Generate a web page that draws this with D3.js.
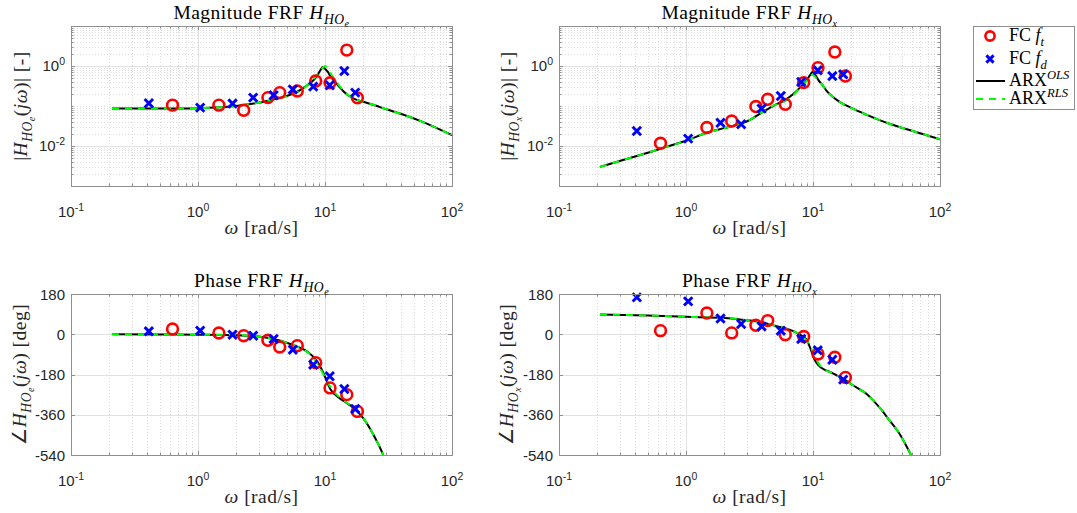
<!DOCTYPE html>
<html>
<head>
<meta charset="utf-8">
<script src="https://cdnjs.cloudflare.com/ajax/libs/d3/7.8.5/d3.min.js"></script>
<style>
body{margin:0;background:#fff;}
</style>
</head>
<body>
<svg id="fig" width="1077" height="513"></svg>
<script>
// ---- data ----
// measurement frequencies (rad/s)
var w_ft = [0.63, 1.46, 2.29, 3.55, 4.4, 6.05, 8.45, 10.95, 14.85, 18.0];
var w_fd = [0.41, 1.04, 1.87, 2.72, 3.94, 5.58, 8.08, 10.9, 14.2, 17.3];

// magnitude, H_HOe
var mag_e_ft = [0.105, 0.105, 0.078, 0.162, 0.216, 0.237, 0.42, 0.38, 2.5, 0.16];
var mag_e_fd = [0.117, 0.091, 0.115, 0.162, 0.186, 0.26, 0.305, 0.33, 0.75, 0.216];
// magnitude, H_HOx
var mag_x_ft = [0.0117, 0.029, 0.042, 0.097, 0.147, 0.11, 0.385, 0.91, 2.24, 0.56];
var mag_x_fd = [0.0237, 0.0153, 0.038, 0.035, 0.086, 0.178, 0.4, 0.78, 0.56, 0.62];
// phase (deg), H_HOe
var ph_e_ft = [23.5, 5.6, -6.5, -27, -57, -51, -127, -240, -270, -345];
var ph_e_fd = [13, 16, -2, -6.5, -21, -69, -136, -188, -245, -334];
// phase (deg), H_HOx
var ph_x_ft = [16, 95, 6, 40, 61, -2, -10, -88, -103, -193];
var ph_x_fd = [165, 147, 70, 46, 35, 16, -21, -72, -114, -203];

// ARX model curves
var w_mag_e = [0.21, 0.3, 0.5, 0.7, 1, 1.5, 2, 2.5, 3, 4, 5, 6, 7, 8, 8.6, 9.2, 9.6, 10, 10.5, 11, 12, 13, 14, 17, 20, 25, 30, 40, 60, 100];
var mag_e_ols = [0.087, 0.087, 0.087, 0.087, 0.088, 0.093, 0.1, 0.11, 0.12, 0.147, 0.178, 0.224, 0.305, 0.42, 0.55, 0.78, 0.95, 0.85, 0.72, 0.56, 0.4, 0.3, 0.23, 0.15, 0.128, 0.103, 0.084, 0.063, 0.039, 0.0186];
var mag_e_rls = [0.087, 0.087, 0.087, 0.087, 0.088, 0.093, 0.1, 0.11, 0.12, 0.145, 0.175, 0.22, 0.3, 0.45, 0.58, 0.78, 0.9, 1.0, 0.85, 0.68, 0.45, 0.32, 0.24, 0.15, 0.128, 0.103, 0.084, 0.063, 0.039, 0.0186];

var w_mag_x = [0.21, 0.3, 0.5, 0.7, 1, 1.5, 2, 2.6, 3, 4, 5, 6, 7, 8, 9, 9.5, 9.9, 10.5, 11, 12, 12.8, 14, 16.3, 20, 26, 40, 60, 100];
var mag_x_ols = [0.003, 0.0042, 0.0068, 0.0095, 0.0135, 0.022, 0.028, 0.035, 0.041, 0.07, 0.105, 0.14, 0.2, 0.3, 0.46, 0.6, 0.71, 0.58, 0.45, 0.32, 0.24, 0.18, 0.125, 0.09, 0.062, 0.036, 0.024, 0.0148];
var mag_x_rls = [0.003, 0.0042, 0.0068, 0.0095, 0.0135, 0.022, 0.028, 0.035, 0.041, 0.07, 0.105, 0.13, 0.19, 0.3, 0.44, 0.55, 0.6, 0.52, 0.43, 0.32, 0.24, 0.18, 0.125, 0.09, 0.062, 0.036, 0.024, 0.0148];

var w_ph_e = [0.21, 0.5, 1, 2, 3, 4, 5, 6, 7, 8, 9, 10, 11, 12, 14, 16, 20, 24, 28, 31];
var ph_e_ols = [0, -1, -2, -4, -10, -22, -38, -55, -72, -98, -135, -190, -245, -270, -298, -320, -375, -448, -525, -590];
var ph_e_rls = [0, -1, -2, -4, -10, -22, -38, -55, -74, -100, -145, -192, -235, -262, -296, -320, -375, -448, -525, -590];

var w_ph_x = [0.21, 0.5, 1, 2, 3, 4, 5, 6, 7, 8, 8.9, 9.4, 10.3, 11, 12.4, 14, 15.5, 18, 20.6, 23.5, 26.6, 30, 34.5, 40, 48, 55, 59, 64];
var ph_x_ols = [88, 84, 78, 73, 63, 53, 38, 27, 14, -4, -24, -54, -114, -138, -159, -172, -185, -205, -228, -248, -268, -298, -337, -385, -445, -505, -540, -590];
var ph_x_rls = [88, 84, 78, 73, 63, 53, 38, 27, 14, -4, -28, -48, -95, -128, -160, -172, -185, -205, -228, -248, -268, -298, -337, -385, -445, -505, -540, -590];

var x_ticks = [0.1, 1, 10, 100];
var mag_ticks = [0.01, 1];
var ph_ticks = [-540, -360, -180, 0, 180];

var legend_labels = [
	[{t:"FC "}, {t:"f", i:1}, {t:"t", i:1, l:1}],
	[{t:"FC "}, {t:"f", i:1}, {t:"d", i:1, l:1}],
	[{t:"ARX"}, {t:"OLS", i:1, l:-1}],
	[{t:"ARX"}, {t:"RLS", i:1, l:-1}]
];

// ---- styles ----
var SERIF = "'Liberation Serif','Times New Roman',serif";
var SANS = "'Liberation Sans',Arial,Helvetica,sans-serif";
var AXC = "#8f8f8f";
var TXC = "#262626";
var RED = "#ff0000", BLUE = "#0000ff", GREEN = "#00ff00";

var svg = d3.select("#fig");

// 渲染含上下標的文字
function rich(txt, parts, fs){
	var cur = 0;
	parts.forEach(function(p){
		var lvl = p.l || 0;
		var off = lvl===1 ? 0.26*fs : (lvl===2 ? 0.42*fs : (lvl===-1 ? -0.38*fs : 0));
		var size = lvl===1 ? 0.7*fs : (lvl===2 ? 0.52*fs : (lvl===-1 ? 0.7*fs : fs));
		var ts = txt.append("tspan")
			.attr("dy", off-cur)
			.attr("font-size", size)
			.attr("font-style", p.i ? "italic" : "normal")
			.text(p.t);
		if(p.f){ ts.attr("font-family", p.f); }
		cur = off;
	});
	return txt;
}

function minorLog(lo, hi){
	var out = [];
	for(var k=lo;k<hi;k++){
		for(var m=1;m<=9;m++){ out.push(m*Math.pow(10,k)); }
	}
	return out;
}

function cross(g, cx, cy, s){
	g.append("path")
		.attr("d", "M"+(cx-s)+","+(cy-s)+"L"+(cx+s)+","+(cy+s)+"M"+(cx-s)+","+(cy+s)+"L"+(cx+s)+","+(cy-s))
		.attr("stroke", BLUE).attr("stroke-width", 2.9).attr("fill","none");
}

var clipN = 0;
function drawPanel(cfg){
	var x = d3.scaleLog().domain([0.1,100]).range([cfg.x0,cfg.x1]);
	var y;
	if(cfg.log){
		y = d3.scaleLog().domain([1e-3,10]).range([cfg.y1,cfg.y0]);
	}else{
		y = d3.scaleLinear().domain([-540,180]).range([cfg.y1,cfg.y0]);
	}
	var g = svg.append("g");

	// grid
	var xMinor = minorLog(-1,2).filter(function(v){ return Math.abs(Math.log10(v)-Math.round(Math.log10(v)))>1e-9; });
	g.selectAll(".gxm").data(xMinor).enter().append("line")
		.attr("x1", function(d){return Math.round(x(d))+0.5;}).attr("x2", function(d){return Math.round(x(d))+0.5;})
		.attr("y1", cfg.y0).attr("y2", cfg.y1)
		.attr("stroke","#d4d4d4").attr("stroke-width",0.8).attr("stroke-dasharray","1,2");
	if(cfg.log){
		var yMinor = minorLog(-3,1).filter(function(v){ return v>1.0001e-3 && mag_ticks.every(function(t){return Math.abs(t-v)/t>1e-6;}); });
		g.selectAll(".gym").data(yMinor).enter().append("line")
			.attr("y1", function(d){return Math.round(y(d))+0.5;}).attr("y2", function(d){return Math.round(y(d))+0.5;})
			.attr("x1", cfg.x0).attr("x2", cfg.x1)
			.attr("stroke","#d4d4d4").attr("stroke-width",0.8).attr("stroke-dasharray","1,2");
	}
	g.selectAll(".gx").data(x_ticks.slice(1,3)).enter().append("line")
		.attr("x1", function(d){return Math.round(x(d))+0.5;}).attr("x2", function(d){return Math.round(x(d))+0.5;})
		.attr("y1", cfg.y0).attr("y2", cfg.y1)
		.attr("stroke","#e2e2e2").attr("stroke-width",1);
	var yt = cfg.log ? mag_ticks : ph_ticks.slice(1,4);
	g.selectAll(".gy").data(yt).enter().append("line")
		.attr("y1", function(d){return Math.round(y(d))+0.5;}).attr("y2", function(d){return Math.round(y(d))+0.5;})
		.attr("x1", cfg.x0).attr("x2", cfg.x1)
		.attr("stroke","#e2e2e2").attr("stroke-width",1);

	// curves
	clipN++;
	var cid = "clip"+clipN;
	svg.append("clipPath").attr("id",cid).append("rect")
		.attr("x",cfg.x0).attr("y",cfg.y0).attr("width",cfg.x1-cfg.x0).attr("height",cfg.y1-cfg.y0);
	var line = d3.line().x(function(d){return x(d[0]);}).y(function(d){return y(d[1]);}).curve(d3.curveMonotoneX);
	var cg = g.append("g").attr("clip-path","url(#"+cid+")");
	cg.append("path").datum(d3.zip(cfg.wc, cfg.ols)).attr("d", line)
		.attr("fill","none").attr("stroke","#000").attr("stroke-width",2);
	cg.append("path").datum(d3.zip(cfg.wc, cfg.rls)).attr("d", line)
		.attr("fill","none").attr("stroke",GREEN).attr("stroke-width",2).attr("stroke-dasharray","7,6");

	// markers
	d3.zip(w_ft, cfg.ft).forEach(function(d){
		g.append("circle").attr("cx",x(d[0])).attr("cy",y(d[1])).attr("r",5.4)
			.attr("fill","none").attr("stroke",RED).attr("stroke-width",2.6);
	});
	d3.zip(w_fd, cfg.fd).forEach(function(d){ cross(g, x(d[0]), y(d[1]), 4.2); });

	// box + ticks
	g.append("rect").attr("x",cfg.x0+0.5).attr("y",cfg.y0+0.5).attr("width",cfg.x1-cfg.x0).attr("height",cfg.y1-cfg.y0)
		.attr("fill","none").attr("stroke",AXC).attr("stroke-width",1);
	var tk = g.append("g").attr("stroke",AXC).attr("stroke-width",1);
	minorLog(-1,2).concat([100]).forEach(function(v){
		var major = x_ticks.some(function(t){return Math.abs(t-v)/t<1e-6;});
		var L = major ? 4 : 2.5;
		var px = Math.round(x(v))+0.5;
		tk.append("line").attr("x1",px).attr("x2",px).attr("y1",cfg.y1).attr("y2",cfg.y1-L);
		tk.append("line").attr("x1",px).attr("x2",px).attr("y1",cfg.y0).attr("y2",cfg.y0+L);
	});
	var yTickAll = cfg.log ? minorLog(-3,1).concat([10]) : ph_ticks;
	yTickAll.forEach(function(v){
		var major = cfg.log ? mag_ticks.some(function(t){return Math.abs(t-v)/t<1e-6;}) : true;
		var L = major ? 4 : 2.5;
		var py = Math.round(y(v))+0.5;
		tk.append("line").attr("y1",py).attr("y2",py).attr("x1",cfg.x0).attr("x2",cfg.x0+L);
		tk.append("line").attr("y1",py).attr("y2",py).attr("x1",cfg.x1).attr("x2",cfg.x1-L);
	});

	// tick labels
	x_ticks.forEach(function(v){
		var t = g.append("text").attr("x",x(v)).attr("y",cfg.y1+31)
			.attr("text-anchor","middle").attr("font-family",SANS).attr("font-size",15).attr("fill",TXC);
		t.append("tspan").text("10");
		t.append("tspan").attr("dy",-6).attr("font-size",10.5).text(String(Math.round(Math.log10(v))));
	});
	if(cfg.log){
		mag_ticks.forEach(function(v){
			var t = g.append("text").attr("x",cfg.x0-6).attr("y",y(v)+5)
				.attr("text-anchor","end").attr("font-family",SANS).attr("font-size",15).attr("fill",TXC);
			t.append("tspan").text("10");
			t.append("tspan").attr("dy",-6).attr("font-size",10.5).text(String(Math.round(Math.log10(v))));
		});
	}else{
		ph_ticks.forEach(function(v){
			g.append("text").attr("x",cfg.x0-6).attr("y",y(v)+5.5)
				.attr("text-anchor","end").attr("font-family",SANS).attr("font-size",15).attr("fill",TXC)
				.text(String(v));
		});
	}

	// title, axis labels
	var cx = (cfg.x0+cfg.x1)/2;
	rich(g.append("text").attr("x",cx).attr("y",cfg.y0-7).attr("text-anchor","middle")
		.attr("font-family",SERIF).attr("letter-spacing",0.5).attr("fill","#000"), cfg.title, 19.5);
	rich(g.append("text").attr("x",cx).attr("y",cfg.y1+48).attr("text-anchor","middle")
		.attr("font-family",SERIF).attr("letter-spacing",0.5).attr("fill",TXC), [{t:"\u03c9", i:1}, {t:" [rad/s]"}], 19.5);
	var ly = (cfg.y0+cfg.y1)/2;
	rich(g.append("text").attr("transform","translate("+cfg.ylx+","+ly+") rotate(-90)").attr("text-anchor","middle")
		.attr("font-family",SERIF).attr("letter-spacing",0.5).attr("fill",TXC), cfg.ylabel, 19.5);
}

function hsub(sfx){
	return [{t:"H", i:1}, {t:"HO", i:1, l:1}, {t:sfx, i:1, l:2}];
}

var ANG = {t:"\u2220", f:"'DejaVu Sans',sans-serif"};

drawPanel({x0:71, x1:452, y0:26, y1:186, log:true, ylx:27,
	title:[{t:"Magnitude FRF "}].concat(hsub("e")),
	ylabel:[{t:"|"}].concat(hsub("e")).concat([{t:"("}, {t:"j\u03c9", i:1}, {t:")| [-]"}]),
	ft:mag_e_ft, fd:mag_e_fd, wc:w_mag_e, ols:mag_e_ols, rls:mag_e_rls});
drawPanel({x0:559, x1:940, y0:26, y1:186, log:true, ylx:514,
	title:[{t:"Magnitude FRF "}].concat(hsub("x")),
	ylabel:[{t:"|"}].concat(hsub("x")).concat([{t:"("}, {t:"j\u03c9", i:1}, {t:")| [-]"}]),
	ft:mag_x_ft, fd:mag_x_fd, wc:w_mag_x, ols:mag_x_ols, rls:mag_x_rls});
drawPanel({x0:71, x1:452, y0:294, y1:455, log:false, ylx:26,
	title:[{t:"Phase FRF "}].concat(hsub("e")),
	ylabel:[ANG].concat(hsub("e")).concat([{t:"("}, {t:"j\u03c9", i:1}, {t:") [deg]"}]),
	ft:ph_e_ft, fd:ph_e_fd, wc:w_ph_e, ols:ph_e_ols, rls:ph_e_rls});
drawPanel({x0:559, x1:940, y0:294, y1:455, log:false, ylx:513,
	title:[{t:"Phase FRF "}].concat(hsub("x")),
	ylabel:[ANG].concat(hsub("x")).concat([{t:"("}, {t:"j\u03c9", i:1}, {t:") [deg]"}]),
	ft:ph_x_ft, fd:ph_x_fd, wc:w_ph_x, ols:ph_x_ols, rls:ph_x_rls});

// legend
var lg = svg.append("g");
lg.append("rect").attr("x",973.5).attr("y",26.5).attr("width",101).attr("height",83)
	.attr("fill","#fff").attr("stroke",AXC).attr("stroke-width",1);
var rowY = [36, 59, 81, 99];
lg.append("circle").attr("cx",990).attr("cy",rowY[0]).attr("r",4.6)
	.attr("fill","none").attr("stroke",RED).attr("stroke-width",2.6);
cross(lg, 990, rowY[1], 3.6);
lg.append("line").attr("x1",976).attr("x2",1005).attr("y1",rowY[2]).attr("y2",rowY[2])
	.attr("stroke","#000").attr("stroke-width",2);
lg.append("line").attr("x1",976).attr("x2",1005).attr("y1",rowY[3]).attr("y2",rowY[3])
	.attr("stroke",GREEN).attr("stroke-width",2).attr("stroke-dasharray","7,6");
legend_labels.forEach(function(parts, i){
	rich(lg.append("text").attr("x",1009).attr("y",rowY[i]+5)
		.attr("font-family",SERIF).attr("fill","#000"), parts, 18);
});
</script>
</body>
</html>
